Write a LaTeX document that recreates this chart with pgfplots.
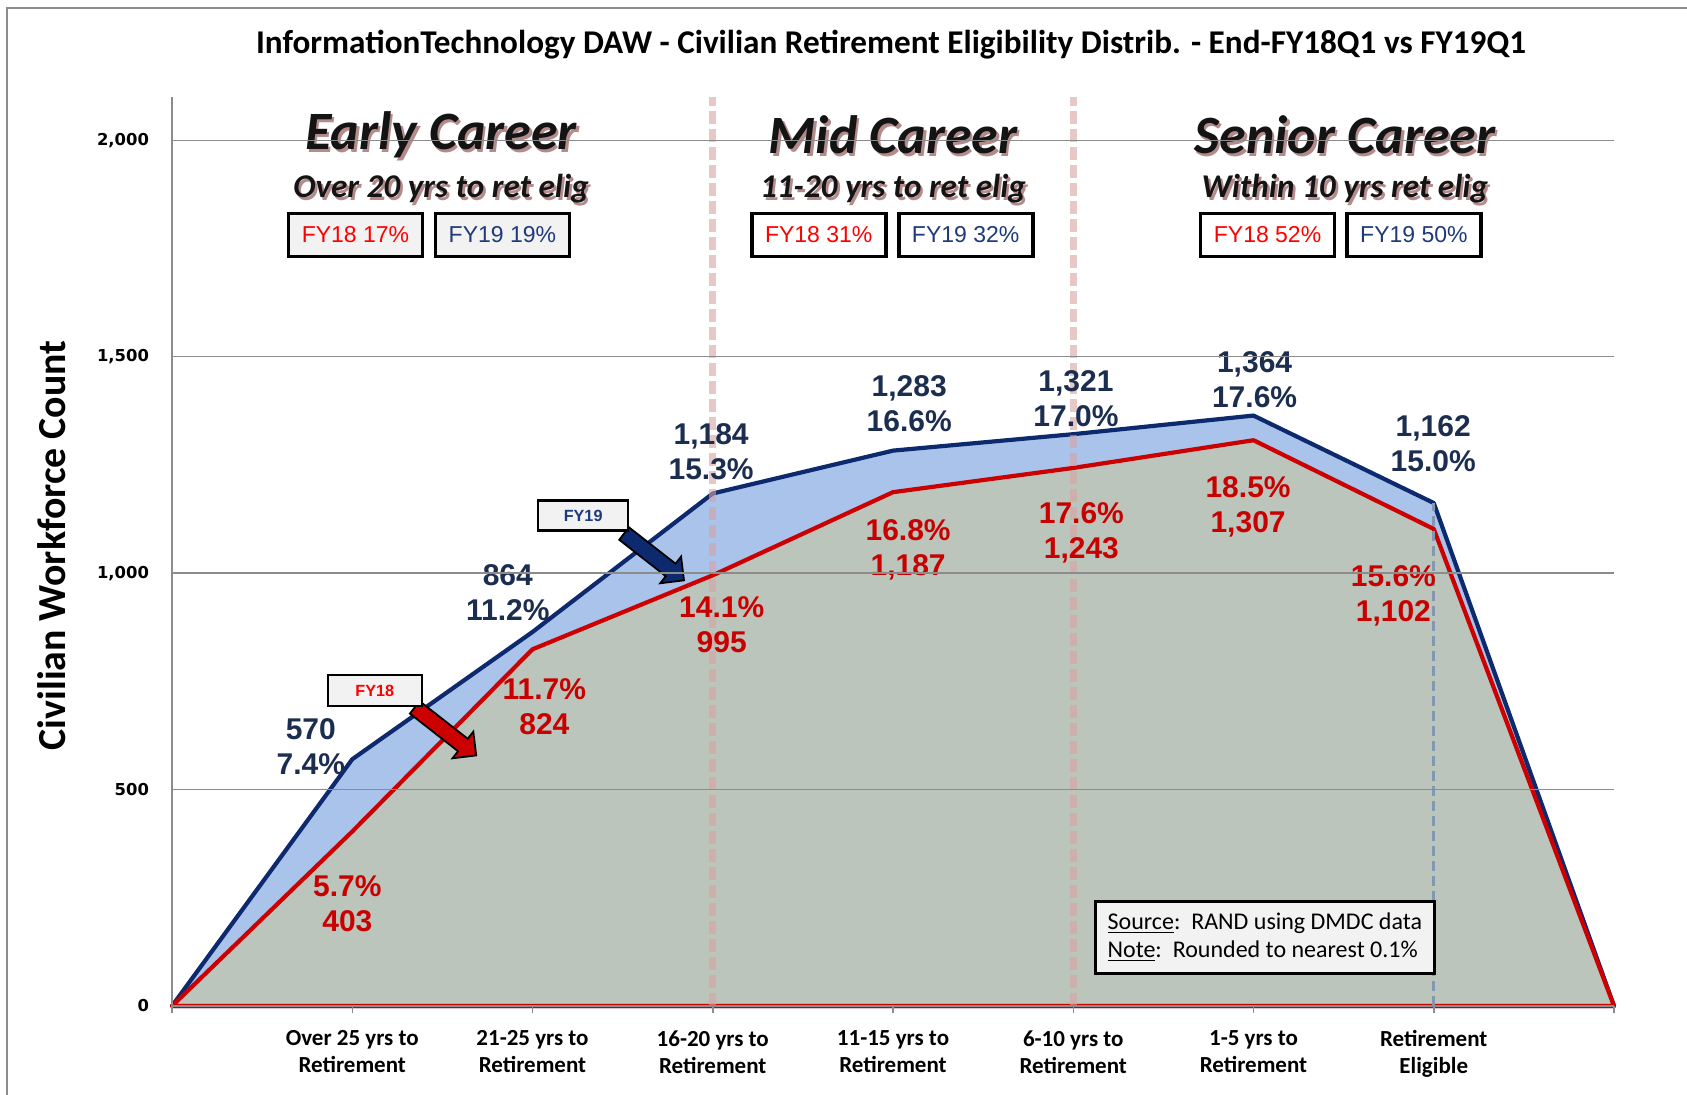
\documentclass[border=0pt]{standalone}
\usepackage{fontspec}
\setmainfont{Carlito}
\newfontfamily\arial{Liberation Sans}
\newfontfamily\dejavu{DejaVu Sans}
\usepackage{pgfplots}
\pgfplotsset{compat=1.18}
\usetikzlibrary{shapes.arrows,arrows.meta}
\definecolor{navyline}{HTML}{0E2A6E}
\definecolor{bluefill}{HTML}{A9C3EA}
\definecolor{greenfill}{HTML}{BCC5BB}
\definecolor{redline}{HTML}{CC0000}
\definecolor{navytxt}{HTML}{1C2E50}
\definecolor{redtxt}{HTML}{C80000}
\definecolor{gridgray}{HTML}{8C8C8C}
\definecolor{pinkdash}{HTML}{D9A3A3}
\definecolor{boxfill}{HTML}{F2F2F2}
\definecolor{boxred}{HTML}{FF0000}
\definecolor{boxnavy}{HTML}{1F3A7A}
\definecolor{dropblue}{HTML}{8497B0}
\definecolor{shadowred}{HTML}{7A2A2A}
\newcommand{\lab}[4]{\node[font=\arial\bfseries\fontsize{15}{17.5}\selectfont, text=#4, align=center, inner sep=0pt] at (axis cs:#1,#2) {#3};}
\newcommand{\hdr}[4]{%
  \node[font=\bfseries\itshape\fontsize{#3}{#3}\selectfont, text=shadowred, opacity=0.55] at ([xshift=1.2pt,yshift=-1.5pt]axis cs:#1,#2) {#4};
  \node[font=\bfseries\itshape\fontsize{#3}{#3}\selectfont, text=black!92] at (axis cs:#1,#2) {#4};}
\newcommand{\pbox}[4]{\node[draw=black, line width=1.9pt, fill=#4, minimum width=67pt, minimum height=21.5pt, inner sep=0pt, font=\arial\fontsize{11.5}{13}\selectfont] at (axis cs:#1,#2) {#3};}
\begin{document}
\begin{tikzpicture}
\useasboundingbox (0,0) rectangle (843.5pt,547.5pt);
\fill[white] (0,0) rectangle (843.5pt,547.5pt);
\draw[gridgray, line width=1pt] (3.5pt,0) -- (3.5pt,543.5pt) -- (843.5pt,543.5pt);
\begin{axis}[
  at={(86pt,44.5pt)}, anchor=south west,
  scale only axis, width=721pt, height=454.5pt,
  xmin=0, xmax=8, ymin=0, ymax=2100,
  axis on top,
  axis x line=bottom, axis y line=left,
  y axis line style={gridgray, line width=0.9pt, -},
  x axis line style={draw=none, -},
  ymajorgrids, grid style={gridgray, line width=0.75pt},
  ytick={0,500,1000,1500,2000},
  yticklabels={0,500,{1,000},{1,500},{2,000}},
  y tick label style={font=\dejavu\bfseries\fontsize{8.2}{10}\selectfont, xshift=-4.5pt},
  ytick style={draw=none},
  xtick={0,1,2,3,4,5,6,7,8},
  xticklabels={,{Over 25 yrs to\\Retirement},{21-25 yrs to\\Retirement},{16-20 yrs to\\Retirement},{11-15 yrs to\\Retirement},{6-10 yrs to\\Retirement},{1-5 yrs to\\Retirement},{Retirement\\Eligible},},
  x tick label style={font=\bfseries\fontsize{11.5}{13.5}\selectfont, align=center, yshift=-5.2pt},
  xtick style={gridgray, line width=0.75pt},
  tick align=outside, major tick length=3.5pt,
  clip=false,
]
\addplot[fill=bluefill, draw=navyline, line width=2.1pt, line join=round] coordinates {(0,0) (1,570) (2,864) (3,1184) (4,1283) (5,1321) (6,1364) (7,1162) (8,0)} \closedcycle;
\addplot[fill=greenfill, draw=redline, line width=2.1pt, line join=round] coordinates {(0,0) (1,403) (2,824) (3,995) (4,1187) (5,1243) (6,1307) (7,1102) (8,0)} \closedcycle;
\addplot[pinkdash, opacity=0.6, line width=3.3pt, dash pattern=on 6.5pt off 2.5pt] coordinates {(3,0) (3,2100)};
\addplot[pinkdash, opacity=0.6, line width=3.3pt, dash pattern=on 6.5pt off 2.5pt] coordinates {(5,0) (5,2100)};
\addplot[dropblue, line width=1.6pt, dash pattern=on 5pt off 2.5pt] coordinates {(7,0) (7,1162)};
% FY19 labels
\lab{0.77}{599}{570\\7.4\%}{navytxt}
\lab{1.863}{954}{864\\11.2\%}{navytxt}
\lab{2.991}{1281}{1,184\\15.3\%}{navytxt}
\lab{4.09}{1391}{1,283\\16.6\%}{navytxt}
\lab{5.015}{1403}{1,321\\17.0\%}{navytxt}
\lab{6.006}{1447}{1,364\\17.6\%}{navytxt}
\lab{6.997}{1299}{1,162\\15.0\%}{navytxt}
% FY18 labels
\lab{0.973}{236}{5.7\%\\403}{redtxt}
\lab{2.066}{691}{11.7\%\\824}{redtxt}
\lab{3.05}{881}{14.1\%\\995}{redtxt}
\lab{4.084}{1053}{16.8\%\\1,187}{redtxt}
\lab{5.045}{1094}{17.6\%\\1,243}{redtxt}
\lab{5.97}{1152}{18.5\%\\1,307}{redtxt}
\lab{6.776}{947}{15.6\%\\1,102}{redtxt}
% headers
\hdr{1.493}{2012}{27}{Early Career}
\hdr{4.0}{2012}{27}{Mid Career}
\hdr{6.507}{2012}{27}{Senior Career}
\hdr{1.493}{1888}{16.6}{Over 20 yrs to ret elig}
\hdr{4.0}{1888}{16.6}{11-20 yrs to ret elig}
\hdr{6.507}{1888}{16.6}{Within 10 yrs ret elig}
\pbox{1.018}{1781}{\textcolor{boxred}{FY18 17\%}}{boxfill}
\pbox{1.833}{1781}{\textcolor{boxnavy}{FY19 19\%}}{boxfill}
\pbox{3.588}{1781}{\textcolor{boxred}{FY18 31\%}}{white}
\pbox{4.403}{1781}{\textcolor{boxnavy}{FY19 32\%}}{white}
\pbox{6.078}{1781}{\textcolor{boxred}{FY18 52\%}}{white}
\pbox{6.890}{1781}{\textcolor{boxnavy}{FY19 50\%}}{white}
% callouts
\node[single arrow, draw=black, line width=0.9pt, fill=navyline, minimum height=38pt, minimum width=16pt, single arrow head extend=4.5pt, inner xsep=0pt, inner ysep=3.5pt, rotate=-38] at (axis cs:2.657,1043) {};
\node[draw=black, line width=1.1pt, fill=boxfill, minimum width=45pt, minimum height=15pt, inner sep=0pt, font=\arial\bfseries\fontsize{8.1}{9}\selectfont, text=boxnavy] at (axis cs:2.281,1133) {FY19};
\node[single arrow, draw=black, line width=0.9pt, fill=redline, minimum height=39pt, minimum width=16pt, single arrow head extend=4.5pt, inner xsep=0pt, inner ysep=3.5pt, rotate=-38] at (axis cs:1.50,640) {};
\node[draw=black, line width=1.1pt, fill=boxfill, minimum width=47pt, minimum height=15.5pt, inner sep=0pt, font=\arial\bfseries\fontsize{8.1}{9}\selectfont, text=boxred] at (axis cs:1.125,729) {FY18};
% source box
\node[draw=black, line width=1.7pt, fill=boxfill, minimum width=169.5pt, minimum height=36pt, align=left, inner sep=0pt, font=\fontsize{12}{14}\selectfont] at (axis cs:6.063,158) {\underline{Source}:\ \ RAND using DMDC data\\\underline{Note}:\ \ Rounded to nearest 0.1\%};
\end{axis}
\node[font=\bfseries\fontsize{16.6}{18}\selectfont] at (445.5pt,525pt) {InformationTechnology DAW - Civilian Retirement Eligibility Distrib. - End-FY18Q1 vs FY19Q1};
\node[rotate=90, font=\bfseries\fontsize{19.9}{22}\selectfont] at (25.8pt,274.8pt) {Civilian Workforce Count};
\end{tikzpicture}
\end{document}
